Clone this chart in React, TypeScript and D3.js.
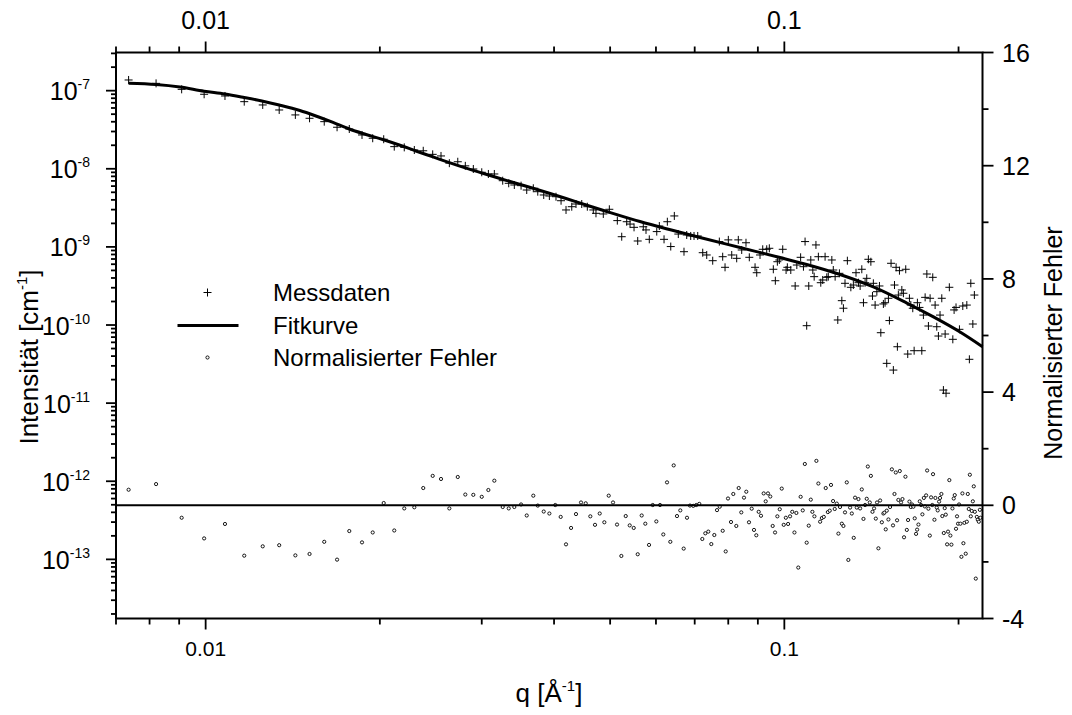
import React from "react";
import * as d3 from "d3";

// ---------- data ----------
const messQ = [
  0.00736, 0.00821, 0.00909, 0.00994, 0.0108, 0.01166, 0.01255, 0.0134, 0.01429, 0.01512,
  0.01603, 0.01687, 0.01771, 0.01863, 0.01944, 0.02031, 0.02118, 0.02204, 0.02294, 0.02377,
  0.02468, 0.02551, 0.02637, 0.02727, 0.0281, 0.02901, 0.03, 0.0308, 0.03154, 0.03261,
  0.0334, 0.03415, 0.03508, 0.03588, 0.03683, 0.03749, 0.03839, 0.03926, 0.04031, 0.04113,
  0.04195, 0.04292, 0.04365, 0.04466, 0.04566, 0.04676, 0.04726, 0.04866, 0.04984, 0.05145,
  0.05236, 0.05341, 0.05412, 0.05499, 0.0558, 0.05705, 0.05767, 0.05843, 0.06019, 0.06081,
  0.06196, 0.06278, 0.06364, 0.06455, 0.06558, 0.06708, 0.06781, 0.0689, 0.06981, 0.07085,
  0.07227, 0.07343, 0.0752, 0.07721, 0.07825, 0.07898, 0.08002, 0.08111, 0.08273, 0.08326,
  0.0844, 0.08585, 0.08699, 0.089, 0.0896, 0.09078, 0.09176, 0.09323, 0.0942, 0.09571,
  0.09648, 0.09726, 0.09803, 0.09936, 0.1007, 0.1012, 0.1026, 0.1044, 0.1051, 0.1067,
  0.1079, 0.1086, 0.1093, 0.1102, 0.1111, 0.112, 0.1126, 0.1134, 0.1145, 0.1156,
  0.1165, 0.1176, 0.1184, 0.1191, 0.1208, 0.1215, 0.1224, 0.1237, 0.1245, 0.1257,
  0.1265, 0.1273, 0.1285, 0.1303, 0.1316, 0.133, 0.1343, 0.1352, 0.1361, 0.137,
  0.1379, 0.1388, 0.1397, 0.1411, 0.142, 0.1425, 0.1435, 0.1445, 0.146, 0.1468,
  0.1483, 0.1493, 0.1503, 0.1513, 0.1519, 0.1529, 0.1543, 0.155, 0.156, 0.1568,
  0.1574, 0.1581, 0.1596, 0.1606, 0.1621, 0.1634, 0.1645, 0.1654, 0.1667, 0.1676,
  0.1698, 0.1712, 0.1728, 0.1739, 0.1751, 0.1763, 0.1774, 0.1786, 0.1805, 0.1822,
  0.1834, 0.1846, 0.1858, 0.1871, 0.1883, 0.1896, 0.1903, 0.1928, 0.1955, 0.1965,
  0.198, 0.2007, 0.2034, 0.2067, 0.2088, 0.21, 0.2117, 0.213,
];
const messI = [
  1.37e-7, 1.24e-7, 1.04e-7, 8.99e-8, 8.55e-8, 7.23e-8, 6.56e-8, 5.66e-8, 4.89e-8, 4.43e-8,
  4.01e-8, 3.4e-8, 3.23e-8, 2.71e-8, 2.46e-8, 2.39e-8, 1.92e-8, 1.88e-8, 1.74e-8, 1.7e-8,
  1.53e-8, 1.46e-8, 1.18e-8, 1.23e-8, 1.09e-8, 9.94e-9, 9.02e-9, 8.58e-9, 8.58e-9, 7.04e-9,
  6.52e-9, 6.2e-9, 6.08e-9, 5.35e-9, 5.63e-9, 5.09e-9, 4.62e-9, 4.48e-9, 4.39e-9, 3.9e-9,
  2.97e-9, 3.27e-9, 3.54e-9, 3.54e-9, 3.27e-9, 2.97e-9, 2.69e-9, 2.64e-9, 3.03e-9, 2.17e-9,
  1.35e-9, 2.1e-9, 1.96e-9, 1.78e-9, 1.19e-9, 1.81e-9, 1.65e-9, 1.25e-9, 1.57e-9, 1.85e-9,
  1.25e-9, 2.1e-9, 1.01e-9, 2.49e-9, 1.46e-9, 8.68e-10, 1.42e-9, 1.38e-9, 1.38e-9, 1.38e-9,
  8.43e-10, 7.88e-10, 6.66e-10, 1.17e-9, 7.49e-10, 5.48e-10, 1.23e-9, 7.88e-10, 7.14e-10, 1.23e-9,
  9.13e-10, 1.13e-9, 7.36e-10, 5.48e-10, 4.67e-10, 7.88e-10, 9.32e-10, 9.32e-10, 9.6e-10, 5.17e-10,
  3.69e-10, 6.46e-10, 6.8e-10, 9.32e-10, 5.06e-10, 5.48e-10, 5.06e-10, 3.16e-10, 5.86e-10, 7.36e-10,
  5.58e-10, 1.17e-9, 9.8e-11, 3.16e-10, 6.8e-10, 5.06e-10, 4.16e-10, 1.06e-9, 7.49e-10, 3.48e-10,
  3.77e-10, 7.49e-10, 4.08e-10, 4.16e-10, 6.8e-10, 5.06e-10, 4.16e-10, 1.16e-10, 4.59e-10, 2.05e-10,
  1.64e-10, 3.42e-10, 6.66e-10, 3.04e-10, 3.25e-10, 4.67e-10, 3.48e-10, 3.16e-10, 5.17e-10, 1.93e-10,
  3.48e-10, 3.96e-10, 6.94e-10, 6.46e-10, 2.35e-10, 3.42e-10, 1.8e-10, 2.67e-10, 3.16e-10, 7.97e-11,
  1.86e-10, 1.93e-10, 3.23e-11, 2.2e-10, 1.14e-10, 6.17e-10, 2.65e-11, 3.25e-10, 5.48e-10, 5.27e-11,
  2.42e-10, 4.96e-10, 2.81e-10, 2.55e-10, 5.17e-10, 4.25e-11, 2.2e-10, 1.8e-10, 1.64e-10, 4.69e-11,
  1.93e-10, 1.68e-10, 4.69e-11, 1.34e-10, 2.26e-10, 4.5e-10, 9.71e-11, 2.2e-10, 4.08e-10, 1.8e-10,
  9.51e-11, 7.23e-11, 1.34e-10, 2.2e-10, 1.47e-11, 7.67e-11, 1.34e-11, 3.04e-10, 6.56e-11, 1.56e-10,
  1.68e-10, 8.81e-11, 1.75e-10, 1.8e-10, 3.64e-11, 3.42e-10, 1.03e-10, 2.42e-10,
];

const errQ = [
  0.00736, 0.00821, 0.00909, 0.00994, 0.0108, 0.01166, 0.01255, 0.0134, 0.01429, 0.01512,
  0.01603, 0.01687, 0.01771, 0.01863, 0.01944, 0.02031, 0.02118, 0.02204, 0.02294, 0.02377,
  0.02468, 0.02551, 0.02637, 0.02727, 0.0281, 0.02901, 0.03, 0.0308, 0.03154, 0.03261,
  0.0334, 0.03415, 0.03508, 0.03588, 0.03683, 0.03749, 0.03839, 0.03926,
  0.0402, 0.04107, 0.04195, 0.0428, 0.04365, 0.04453, 0.04537, 0.04621, 0.04708, 0.04797,
  0.04886, 0.04972, 0.05058, 0.05139, 0.05228, 0.0532, 0.05405, 0.05492, 0.0558, 0.05669,
  0.05751, 0.05837, 0.05923, 0.06009, 0.06098, 0.06178, 0.0627, 0.06353, 0.06439, 0.06524,
  0.0661, 0.067, 0.06789, 0.0687, 0.06961, 0.07045, 0.07129, 0.07215, 0.07302, 0.07389,
  0.07478, 0.07568, 0.0765, 0.07733, 0.07825, 0.07919, 0.07992, 0.08088, 0.08162, 0.0826,
  0.08339, 0.08426, 0.08517, 0.08595, 0.08688, 0.08782, 0.08863, 0.08944, 0.0903, 0.09113,
  0.09211, 0.09285, 0.0937, 0.09456, 0.09547, 0.09637, 0.09726, 0.09819, 0.09897, 0.09976,
  0.1006, 0.1015, 0.1023, 0.1032, 0.1041, 0.1049, 0.1057, 0.1067, 0.1076, 0.1085,
  0.1093, 0.1102, 0.1111, 0.1118, 0.1127, 0.1136, 0.1145, 0.1153, 0.1161, 0.117,
  0.1179, 0.1189, 0.1198, 0.1204, 0.1214, 0.1222, 0.1232, 0.124, 0.1248, 0.1257,
  0.1265, 0.1273, 0.1282, 0.129, 0.1299, 0.1308, 0.1318, 0.1325, 0.1334, 0.1343,
  0.1352, 0.1361, 0.137, 0.1379, 0.1388, 0.1394, 0.1405, 0.1411, 0.142, 0.1429,
  0.1439, 0.1446, 0.1454, 0.1464, 0.1474, 0.1483, 0.1489, 0.1497, 0.1503, 0.1513,
  0.1523, 0.1534, 0.1541, 0.155, 0.1558, 0.1566, 0.1574, 0.1583, 0.1591, 0.16,
  0.161, 0.1619, 0.1628, 0.1636, 0.1645, 0.1654, 0.1662, 0.1671, 0.168, 0.1689,
  0.1696, 0.1705, 0.1714, 0.1723, 0.1732, 0.1742, 0.1749, 0.1758, 0.1765, 0.1774,
  0.1784, 0.1793, 0.1802, 0.1807, 0.1817, 0.1824, 0.1834, 0.1841, 0.1851, 0.1858,
  0.1868, 0.1875, 0.1886, 0.1893, 0.1901, 0.1911, 0.1918, 0.1928, 0.1936, 0.1944,
  0.1952, 0.1962, 0.197, 0.198, 0.1988, 0.1996, 0.2004, 0.2015, 0.2023, 0.2031,
  0.2039, 0.2047, 0.2058, 0.2067, 0.2075, 0.2083, 0.2092, 0.21, 0.2108, 0.2117,
  0.2125, 0.2134, 0.2142, 0.2151, 0.2159, 0.2168, 0.2177, 0.2182,
];
const errV = [
  0.55, 0.75, -0.44, -1.17, -0.66, -1.78, -1.45, -1.41, -1.77, -1.72,
  -1.29, -1.92, -0.91, -1.31, -0.96, 0.08, -0.89, -0.11, -0.07, 0.61,
  1.04, 0.93, -0.11, 1.0, 0.38, 0.37, 0.3, 0.54, 0.87, -0.06,
  -0.11, -0.06, 0.03, -0.36, 0.34, -0.01, -0.22, -0.29,
  0.01, -0.41, -1.38, -0.8, -0.31, 0.1, 0.07, -0.39, -0.69, -0.29,
  -0.6, 0.34, 0.1, -0.68, -1.79, -0.38, -0.71, -0.8, -1.73, -0.36,
  -0.65, -1.4, 0.01, -0.57, 0.01, -1.03, 0.81, -1.29, 1.41, -0.38,
  -0.18, -1.53, -0.44, -0.01, -0.02, 0.01, 0.05, -1.19, -0.99, -0.93,
  -1.37, -1.05, -0.17, -0.05, -0.9, -1.63, 0.24, -0.59, 0.4, -0.73,
  0.61, -0.25, 0.27, 0.48, -0.6, -0.12, -0.87, -1.06, -0.23, -0.37,
  0.42, 0.14, 0.42, 0.31, -0.73, -0.96, -0.39, -0.14, 0.59, -0.69,
  -0.44, -0.66, -0.39, -0.23, -0.96, -0.27, -2.2, 0.3, -0.18, 1.46,
  -1.32, -0.72, 0.2, -0.23, -0.39, 1.57, 0.77, -0.58, -0.45, -0.41,
  0.61, -0.24, -0.19, 0.72, 0.15, -0.13, 0.06, -1.0, -0.06, -0.65,
  -0.73, -0.25, 0.81, -1.93, -0.08, -0.29, -1.15, 0.27, -0.08, 0.22,
  -0.11, 0.56, -0.48, 0.01, 0.23, 1.37, 0.1, 1.04, -0.23, -0.11,
  -0.47, 0.1, -1.52, 0.17, -0.6, -0.29, -0.26, -0.85, -0.19, -0.5,
  -0.06, 1.27, -0.71, 0.4, 1.16, -0.53, 0.19, 1.21, 0.1, 0.22,
  -1.13, 1.01, -0.87, -0.52, 0.13, -0.06, 0.03, -0.05, -0.46, -1.01,
  -0.86, -0.68, 0.14, 0.01, -0.32, 0.26, -0.04, 0.35, 1.23, -0.12,
  -1.07, 0.28, 0.01, 1.1, -0.51, 0.26, -0.08, -0.18, 0.13, 0.26,
  0.4, -0.38, -0.98, -0.1, -0.33, -1.38, -0.93, 0.89, -1.07, -1.39,
  -0.11, 0.24, 0.36, -0.83, -0.39, -0.65, 0.03, -0.65, -1.82, 0.42,
  -1.34, -0.62, -1.71, -0.58, 0.4, -0.13, 1.08, -0.39, -0.2, 0.14,
  0.67, -0.23, -2.59, -0.41, -0.51, -0.58, -0.16, -0.44,
];

const fitQ = [
  0.00736, 0.00821, 0.009027, 0.00994, 0.0108, 0.01166, 0.01251, 0.0134, 0.01455, 0.01551,
  0.0166, 0.01771, 0.01893, 0.02023, 0.02167, 0.02309, 0.02471, 0.02637, 0.02818, 0.03012,
  0.03226, 0.03438, 0.03679, 0.03926, 0.04195, 0.04543, 0.04933, 0.05631, 0.0643, 0.0715,
  0.08382, 0.0983, 0.1093, 0.1248, 0.1425, 0.1628, 0.181, 0.2012, 0.22,
];
const fitI = [
  1.244e-7, 1.2e-7, 1.115e-7, 9.85e-8, 9.07e-8, 8.18e-8, 7.38e-8, 6.56e-8, 5.58e-8, 4.74e-8,
  3.92e-8, 3.23e-8, 2.75e-8, 2.37e-8, 2.0e-8, 1.69e-8, 1.42e-8, 1.2e-8, 1.02e-8, 8.76e-9,
  7.51e-9, 6.52e-9, 5.63e-9, 4.86e-9, 4.17e-9, 3.44e-9, 2.84e-9, 2.11e-9, 1.62e-9, 1.32e-9,
  9.82e-10, 7.31e-10, 5.95e-10, 4.43e-10, 3.07e-10, 1.91e-10, 1.27e-10, 8.14e-11, 5.28e-11,
];

const xMajorTicks = [0.01, 0.1];
const xTickLabels = ["0.01", "0.1"];
const xMinorTicks = [0.007, 0.008, 0.009, 0.02, 0.03, 0.04, 0.05, 0.06, 0.07, 0.08, 0.09, 0.2];
const yLeftDecades = [-13, -12, -11, -10, -9, -8, -7];
const yRightMajor = [-4, 0, 4, 8, 12, 16];
const yRightMinor = [-2, 2, 6, 10, 14];
const legendLabels = ["Messdaten", "Fitkurve", "Normalisierter Fehler"];

// ---------- layout ----------
const W = 1072;
const H = 715;
const PL = 116;
const PR = 982.5;
const PT = 52.5;
const PB = 618.5;
const FONT = "'Liberation Sans', Arial, Helvetica, sans-serif";

export default function App() {
  const x = d3.scaleLog().domain([0.007, 0.22]).range([PL, PR]);
  const yL = d3.scaleLog().domain([1.75e-14, 3.08e-7]).range([PB, PT]);
  const yR = d3.scaleLinear().domain([-4, 16]).range([PB, PT]);

  const fitLine = d3
    .line<number>()
    .x((_, i) => x(fitQ[i]))
    .y((_, i) => yL(fitI[i]))
    .curve(d3.curveMonotoneX);

  const leftMinor: number[] = [];
  for (let k = -14; k <= -7; k++) {
    for (let m = 2; m <= 9; m++) {
      const v = m * Math.pow(10, k);
      if (v >= 1.75e-14 && v <= 3.08e-7) leftMinor.push(v);
    }
  }

  const crossPath = (cx: number, cy: number, s: number) =>
    `M${cx - s},${cy}H${cx + s}M${cx},${cy - s}V${cy + s}`;

  const tickStroke = 1.8;

  return (
    <svg
      width={W}
      height={H}
      style={{ position: "absolute", left: 0, top: 0, background: "#fff" }}
      fontFamily={FONT}
    >
      <rect x={0} y={0} width={W} height={H} fill="#fff" />

      {/* error points */}
      <g>
        {errQ.map((q, i) => (
          <circle
            key={"e" + i}
            cx={x(q)}
            cy={yR(errV[i])}
            r={1.6}
            fill="#fff"
            stroke="#000"
            strokeWidth={0.9}
          />
        ))}
      </g>

      {/* zero line */}
      <line x1={PL} x2={PR} y1={yR(0)} y2={yR(0)} stroke="#000" strokeWidth={2} />

      {/* measured data */}
      <g>
        {messQ.map((q, i) => (
          <path
            key={"m" + i}
            d={crossPath(x(q), yL(messI[i]), 4)}
            stroke="#000"
            strokeWidth={1}
            fill="none"
          />
        ))}
      </g>

      {/* fit curve */}
      <path d={fitLine(fitQ) || ""} fill="none" stroke="#000" strokeWidth={3} strokeLinejoin="round" />

      {/* frame */}
      <rect x={PL} y={PT} width={PR - PL} height={PB - PT} fill="none" stroke="#000" strokeWidth={2} />

      {/* bottom & top x ticks */}
      <g stroke="#000" strokeWidth={tickStroke}>
        {xMajorTicks.map((v) => (
          <g key={"xm" + v}>
            <line x1={x(v)} x2={x(v)} y1={PB} y2={PB + 11} />
            <line x1={x(v)} x2={x(v)} y1={PT} y2={PT - 11} />
          </g>
        ))}
        {xMinorTicks.map((v) => (
          <g key={"xn" + v}>
            <line x1={x(v)} x2={x(v)} y1={PB} y2={PB + 6} />
            <line x1={x(v)} x2={x(v)} y1={PT} y2={PT - 6} />
          </g>
        ))}
      </g>
      {xMajorTicks.map((v, i) => (
        <text key={"xb" + v} x={x(v)} y={656} textAnchor="middle" fontSize={21}>
          {xTickLabels[i]}
        </text>
      ))}
      {xMajorTicks.map((v, i) => (
        <text key={"xt" + v} x={x(v)} y={29} textAnchor="middle" fontSize={25}>
          {xTickLabels[i]}
        </text>
      ))}

      {/* left y ticks */}
      <g stroke="#000" strokeWidth={tickStroke}>
        {yLeftDecades.map((k) => {
          const yy = yL(Math.pow(10, k));
          return <line key={"yl" + k} x1={PL} x2={PL - 10} y1={yy} y2={yy} />;
        })}
        {leftMinor.map((v, i) => (
          <line key={"yln" + i} x1={PL} x2={PL - 5} y1={yL(v)} y2={yL(v)} />
        ))}
      </g>
      {yLeftDecades.map((k) => {
        const yy = yL(Math.pow(10, k));
        return (
          <text key={"ylt" + k} x={90} y={yy + 9.5} textAnchor="end" fontSize={25}>
            10
            <tspan dy={-11} fontSize={14}>
              {"-" + Math.abs(k)}
            </tspan>
          </text>
        );
      })}

      {/* right y ticks */}
      <g stroke="#000" strokeWidth={tickStroke}>
        {yRightMajor.map((v) => (
          <line key={"yr" + v} x1={PR} x2={PR + 11} y1={yR(v)} y2={yR(v)} />
        ))}
        {yRightMinor.map((v) => (
          <line key={"yrn" + v} x1={PR} x2={PR + 6} y1={yR(v)} y2={yR(v)} />
        ))}
      </g>
      {yRightMajor.map((v) => (
        <text key={"yrt" + v} x={1002} y={yR(v) + 9} fontSize={25}>
          {String(v)}
        </text>
      ))}

      {/* axis titles */}
      <text x={549} y={702} textAnchor="middle" fontSize={26}>
        q [Å
        <tspan dy={-11} fontSize={15}>
          -1
        </tspan>
        <tspan dy={11}>]</tspan>
      </text>
      <text transform="translate(38,357) rotate(-90)" textAnchor="middle" fontSize={26}>
        Intensität [cm
        <tspan dy={-11} fontSize={15}>
          -1
        </tspan>
        <tspan dy={11}>]</tspan>
      </text>
      <text transform="translate(1062,343) rotate(-90)" textAnchor="middle" fontSize={25}>
        Normalisierter Fehler
      </text>

      {/* legend */}
      <g>
        <path d={crossPath(207.5, 292.5, 4)} stroke="#000" strokeWidth={1} fill="none" />
        <line x1={177.5} x2={238.5} y1={325.5} y2={325.5} stroke="#000" strokeWidth={2.8} />
        <circle cx={207.5} cy={357.5} r={1.6} fill="#fff" stroke="#000" strokeWidth={0.9} />
        {legendLabels.map((t, i) => (
          <text key={t} x={273} y={301 + i * 32.5} fontSize={24}>
            {t}
          </text>
        ))}
      </g>
    </svg>
  );
}
